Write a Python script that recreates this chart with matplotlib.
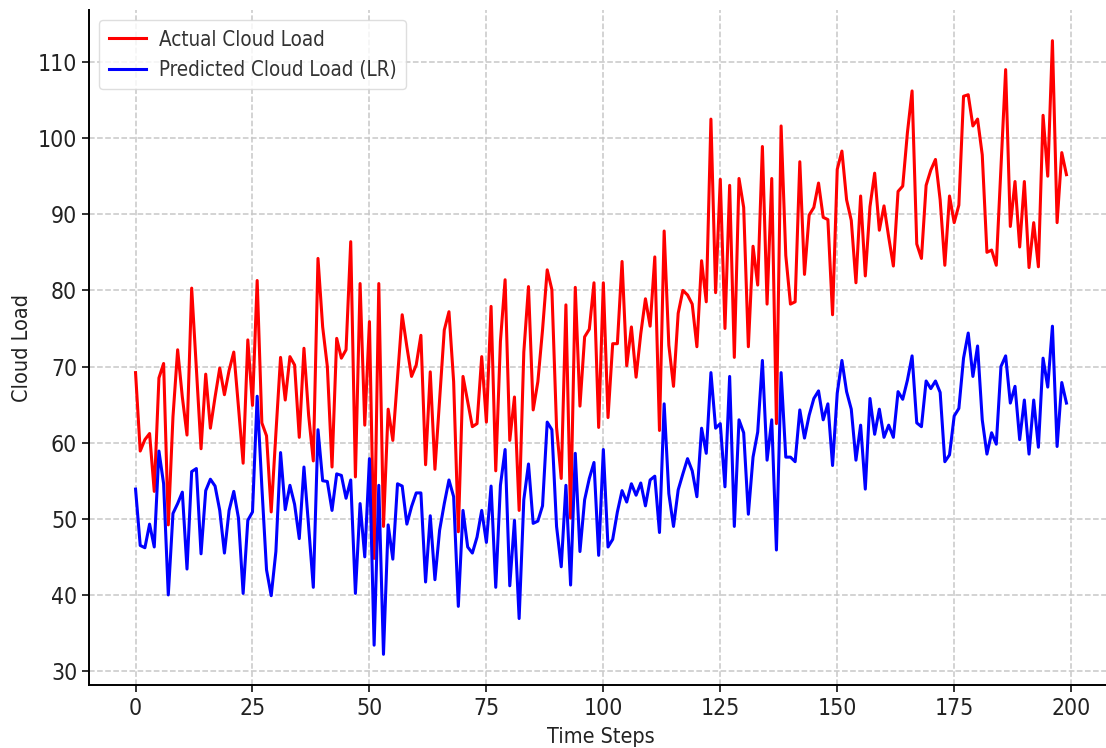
import numpy as np
import matplotlib
matplotlib.use('Agg')
import matplotlib.pyplot as plt

# values, one per time step
actual_load = [
    69.2, 58.9, 60.4, 61.2, 53.6, 68.5, 70.4, 49.2, 63.4, 72.2,
    66.0, 61.0, 80.3, 69.8, 59.2, 69.0, 61.9, 66.0, 69.8, 66.3,
    69.5, 71.9, 64.7, 57.3, 73.5, 64.9, 81.3, 62.6, 60.9, 50.9,
    61.2, 71.2, 65.6, 71.3, 70.2, 60.7, 72.4, 63.6, 57.6, 84.2,
    75.2, 70.0, 56.8, 73.7, 71.1, 72.2, 86.4, 55.5, 80.9, 62.3,
    75.9, 44.8, 80.9, 49.0, 64.4, 60.3, 68.5, 76.8, 72.6, 68.7,
    70.2, 74.1, 57.1, 69.3, 56.5, 65.6, 74.8, 77.2, 68.0, 48.3,
    68.7, 65.4, 62.1, 62.5, 71.3, 62.7, 77.9, 56.3, 73.3, 81.4,
    60.3, 66.0, 51.1, 71.9, 80.5, 64.3, 68.0, 74.8, 82.7, 80.1,
    62.0, 55.3, 78.1, 50.1, 80.4, 64.8, 73.9, 74.9, 81.0, 62.0,
    81.0, 63.3, 73.0, 73.0, 83.8, 70.1, 75.2, 68.6, 74.3, 78.9,
    75.3, 84.4, 61.6, 87.8, 72.8, 67.4, 77.0, 80.0, 79.4, 78.2,
    72.6, 83.9, 78.5, 102.5, 79.7, 94.6, 75.0, 93.8, 71.2, 94.7,
    90.9, 72.6, 85.8, 80.7, 98.9, 78.2, 94.7, 62.5, 101.6, 84.6,
    78.2, 78.5, 96.9, 82.1, 89.9, 90.9, 94.1, 89.6, 89.3, 76.8,
    95.9, 98.3, 91.9, 89.2, 81.0, 92.4, 81.9, 91.0, 95.4, 87.9,
    91.1, 87.0, 83.2, 93.0, 93.7, 100.7, 106.2, 86.1, 84.2, 93.8,
    95.8, 97.2, 91.9, 83.3, 92.4, 88.9, 91.2, 105.5, 105.7, 101.6,
    102.5, 97.8, 85.0, 85.3, 83.3, 96.0, 109.0, 88.4, 94.3, 85.7,
    94.3, 83.0, 88.9, 83.1, 103.0, 95.0, 112.8, 88.9, 98.1, 95.2,
]

predicted_load = [
    53.9, 46.5, 46.2, 49.3, 46.3, 58.9, 54.6, 40.0, 50.7, 52.0,
    53.5, 43.4, 56.2, 56.6, 45.4, 53.7, 55.2, 54.3, 51.1, 45.5,
    51.1, 53.6, 50.1, 40.2, 49.8, 50.9, 66.1, 54.2, 43.3, 39.9,
    45.7, 58.7, 51.2, 54.4, 51.9, 47.4, 56.8, 49.0, 41.0, 61.7,
    55.0, 54.9, 51.1, 55.9, 55.7, 52.7, 55.1, 40.2, 52.0, 45.0,
    57.9, 33.4, 54.4, 32.2, 49.2, 44.7, 54.6, 54.3, 49.3, 51.6,
    53.4, 53.4, 41.7, 50.4, 42.0, 48.5, 52.0, 55.1, 52.9, 38.5,
    51.1, 46.3, 45.5, 47.6, 51.1, 46.9, 54.3, 41.0, 54.4, 59.1,
    41.2, 49.8, 36.9, 52.5, 57.2, 49.4, 49.7, 51.7, 62.7, 61.7,
    49.0, 43.7, 54.4, 41.3, 58.6, 45.7, 52.5, 55.3, 57.4, 45.2,
    59.1, 46.3, 47.3, 50.9, 53.7, 52.2, 54.6, 53.1, 54.7, 51.7,
    55.1, 55.6, 48.2, 65.1, 53.3, 49.0, 53.8, 55.9, 57.9, 56.3,
    52.9, 61.9, 58.6, 69.2, 61.9, 62.5, 54.2, 68.7, 49.0, 63.0,
    61.3, 50.6, 58.1, 61.4, 70.8, 57.7, 63.0, 45.9, 69.2, 58.1,
    58.1, 57.5, 64.3, 60.6, 63.6, 65.8, 66.8, 63.0, 65.1, 57.0,
    66.5, 70.8, 66.7, 64.4, 57.7, 62.3, 53.9, 65.8, 61.1, 64.4,
    60.7, 62.3, 60.7, 66.7, 65.7, 68.2, 71.4, 62.6, 62.1, 68.1,
    67.1, 68.1, 66.6, 57.5, 58.4, 63.5, 64.5, 71.1, 74.4, 68.7,
    72.7, 63.0, 58.5, 61.3, 59.8, 70.0, 71.4, 65.2, 67.4, 60.4,
    65.6, 58.5, 65.6, 59.4, 71.1, 67.3, 75.3, 59.5, 67.9, 65.2,
]

time_steps = np.arange(len(actual_load))

plt.rcParams['font.family'] = ['DejaVu Sans']
# the reference text looks narrow; use the condensed face if it is installed
plt.rcParams['font.stretch'] = 'condensed'

fig = plt.figure(figsize=(11.06, 7.48), dpi=100)
# axes run a little past the right edge, as in the cropped original
ax = fig.add_axes([89 / 1106, 63 / 748, 1024 / 1106, 675 / 748])

ax.plot(time_steps, actual_load, color='red', linewidth=2.2, label='Actual Cloud Load')
ax.plot(time_steps, predicted_load, color='blue', linewidth=2.2, label='Predicted Cloud Load (LR)')

ax.set_xlabel('Time Steps', fontsize=15.5, color='#222222', labelpad=5)
ax.set_ylabel('Cloud Load', fontsize=15.5, color='#222222', labelpad=4)
ax.set_xticks([0, 25, 50, 75, 100, 125, 150, 175, 200])
ax.set_yticks([30, 40, 50, 60, 70, 80, 90, 100, 110])
ax.tick_params(labelsize=16.5, length=5, width=1.3, direction='out', colors='#222222')

ax.grid(True, linestyle='--', linewidth=1.1, color='#c8c8c8')
ax.spines['top'].set_visible(False)
ax.spines['right'].set_visible(False)
for side in ['left', 'bottom']:
    ax.spines[side].set_linewidth(1.4)

leg = ax.legend(loc='upper left', fontsize=14.8, frameon=True, fancybox=True,
                borderpad=0.45, handlelength=1.8, handletextpad=0.65)
leg.get_frame().set_edgecolor('#d6d6d6')
for txt in leg.get_texts():
    txt.set_color('#333333')

fig.savefig('out.png', dpi=100)
